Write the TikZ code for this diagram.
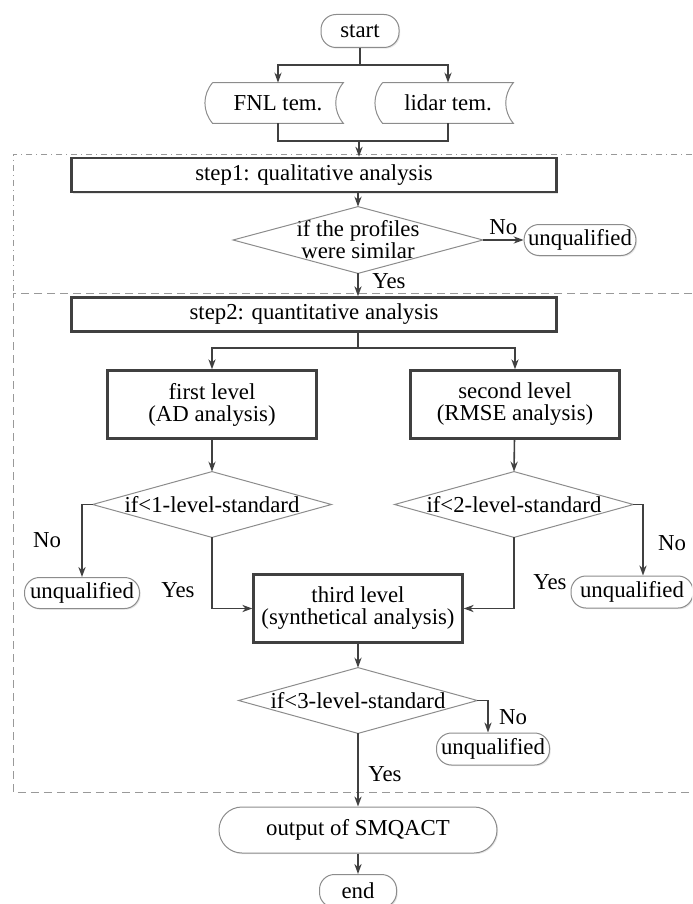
\documentclass[tikz,border=0pt]{standalone}
\usepackage{fontspec}
\setmainfont{Liberation Serif}
\usetikzlibrary{arrows.meta,shadows}
\tikzset{termbox/.style={
    rectangle,
    draw=black!45,
    fill=white,
    line width=0.5pt,
    rounded corners=7.5pt,
    inner xsep=2pt,
    inner ysep=1pt,
    drop shadow={shadow xshift=0.6pt,shadow yshift=-0.6pt,opacity=0.2}
  },
  stepbox/.style={
    rectangle,
    draw=black!75,
    fill=white,
    line width=1.2pt,
    minimum width=242.5pt,
    minimum height=14pt,
    drop shadow={shadow xshift=0.8pt,shadow yshift=-0.8pt,opacity=0.2}
  },
  levelbox/.style={stepbox,align=center,minimum width=104.5pt,minimum height=34pt},
  databox/.style={rectangle,minimum width=65pt,minimum height=20pt},
  decbox/.style={rectangle,inner sep=0pt,align=center,minimum width=119pt,minimum height=32.5pt},
  dmline/.style={draw=black!45,line width=0.5pt},
  line/.style={draw=black!75,line width=0.8pt},
  arrow/.style={line,-{Stealth[length=5pt,width=3.6pt]}},
  frameone/.style={draw=black!40,line width=0.5pt,dash dot},
  frametwo/.style={draw=black!40,line width=0.5pt,dash pattern=on 4pt off 2.5pt},
}

\begin{document}
\begin{tikzpicture}[x=0.5pt,y=-0.5pt,font=\fontsize{11.4}{11}\selectfont]
  \useasboundingbox (0,0) rectangle (692,904);
  \clip (0,0) rectangle (692,904);
  % dashed frames of the two steps
  \draw[frameone] (692,154) -- (13,154) -- (13,293);
  \draw[frametwo] (692,293) -- (13,293) -- (13,792) -- (692,792);

  % input
  \node[termbox,minimum width=39pt,minimum height=16.5pt] (start) at (360,31) {start};
  \node[databox] (fnl) at (278,103) {FNL tem.};
  \node[databox] (lidar) at (448,103) {lidar tem.};
  \foreach \n in {fnl,lidar}
    \draw[dmline] (\n.north west) -- (\n.north east) to[bend right=40] (\n.south east)
      -- (\n.south west) to[bend left=40] (\n.north west);

  % step1
  \node[stepbox] (stepone) at (314,175) {step1: qualitative analysis};
  \node[decbox,minimum width=124.5pt,minimum height=33pt] (simq) at (358,240) {if the profiles\\were similar};
  \node[termbox,minimum width=53pt,minimum height=15.5pt] (unqa) at (580,240) {unqualified};

  % step2
  \node[stepbox] (steptwo) at (314,314.5) {step2: quantitative analysis};
  \node[levelbox] (first) at (212,404.5) {first level\\(AD analysis)};
  \node[levelbox] (second) at (515,404.5) {second level\\(RMSE analysis)};
  \node[decbox] (ifone) at (212,504.5) {if<1-level-standard};
  \node[decbox] (iftwo) at (514,504.5) {if<2-level-standard};
  \node[termbox,minimum width=57.5pt,minimum height=15.5pt] (unqb) at (82,593) {unqualified};
  \node[termbox,minimum width=61pt,minimum height=16pt] (unqc) at (632,592) {unqualified};
  \node[levelbox] (third) at (358,608.5) {third level\\(synthetical analysis)};
  \node[decbox] (ifthree) at (358,700.5) {if<3-level-standard};
  \node[termbox,minimum width=56.5pt,minimum height=16pt] (unqd) at (493,749) {unqualified};
  \foreach \n in {simq,ifone,iftwo,ifthree}
    \draw[dmline] (\n.north) -- (\n.east) -- (\n.south) -- (\n.west) -- cycle;

  % output
  \node[termbox,minimum width=139pt,minimum height=23pt,rounded corners=11.5pt] (output) at (358,830) {output of SMQACT};
  \node[termbox,minimum width=38.5pt,minimum height=16.5pt] (end) at (358,891) {end};

  % connectors
  \coordinate (split) at (360,65);
  \coordinate (join) at (359,141);
  \coordinate (branch) at (358,348);
  \draw[line] (start) -- (split);
  \draw[arrow] (split) -| (fnl);
  \draw[arrow] (split) -| (lidar);
  \draw[line] (fnl) |- (join);
  \draw[line] (lidar) |- (join);
  \draw[arrow] (join) -- (join |- stepone.north);
  \draw[arrow] (stepone.south -| simq.north) -- (simq.north);
  \draw[arrow] (simq.east) -- (unqa.west) node[pos=0.5,above=-1pt] (noa) {No};
  \draw[arrow] (simq.south) -- (simq.south |- steptwo.north);
  \node (yesa) at (389,281) {Yes};
  \draw[line] (steptwo.south -| branch) -- (branch);
  \draw[arrow] (branch) -| (first);
  \draw[arrow] (branch) -| (second);
  \draw[arrow] (first) -- (ifone.north);
  \draw[arrow] (second) -- (iftwo.north);
  \draw[arrow] (ifone.west) -| (unqb.north);
  \draw[arrow] (iftwo.east) -| ([xshift=5.5pt]unqc.north);
  \draw[arrow] (ifone.south) |- (third.west);
  \draw[arrow] (iftwo.south) |- (third.east);
  \node (nob) at (47,540) {No};
  \node (yesb) at (178,590) {Yes};
  \node (yesc) at (550,582) {Yes};
  \node (noc) at (672,543) {No};
  \draw[arrow] (third) -- (ifthree.north);
  \draw[arrow] (ifthree.east) -| ([xshift=-2.5pt]unqd.north);
  \draw[arrow] (ifthree.south) -- (output);
  \node (nod) at (513,717) {No};
  \node (yesd) at (385,774) {Yes};
  \draw[arrow] (output) -- (end);
\end{tikzpicture}
\end{document}
